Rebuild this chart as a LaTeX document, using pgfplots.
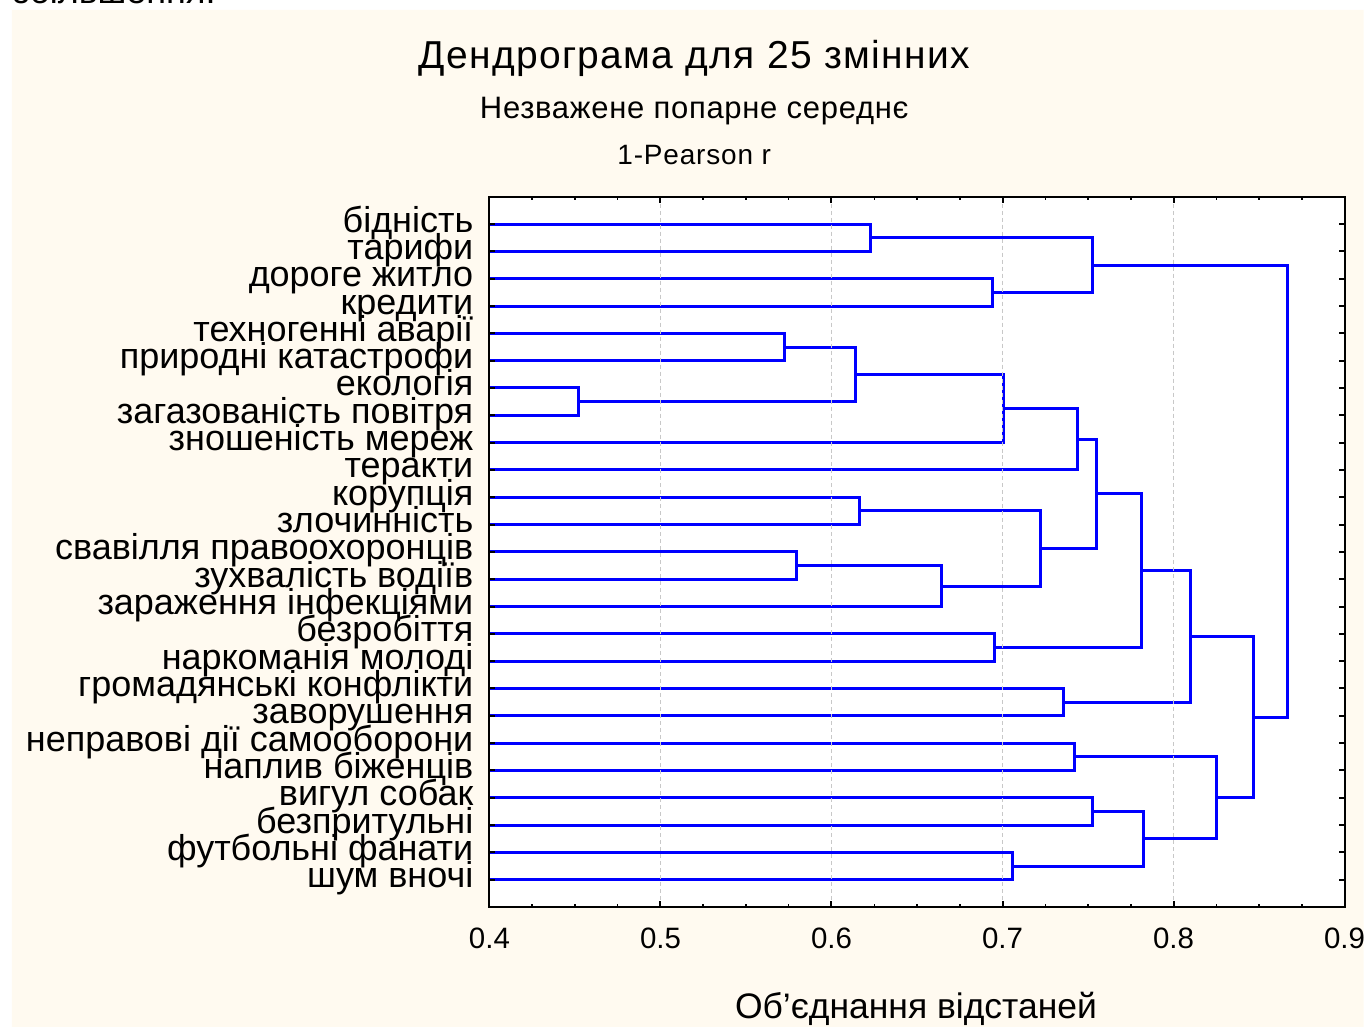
\documentclass[border=0pt]{standalone}
\usepackage{fontspec}
\setmainfont{Liberation Sans}
\newfontfamily\titlefont[LetterSpace=3.5]{Liberation Sans}
\newfontfamily\subfont[LetterSpace=2.3]{Liberation Sans}
\newfontfamily\pearfont[LetterSpace=3]{Liberation Sans}
\usepackage{pgfplots}
\pgfplotsset{compat=1.18}
\definecolor{bgbeige}{RGB}{255,250,240}
\definecolor{dblue}{RGB}{0,0,255}
\definecolor{gridgray}{RGB}{200,200,200}
\begin{document}
\begin{tikzpicture}[x=1pt,y=1pt]
\fill[white] (0,0) rectangle (12,1028);
\fill[white] (0,1018) rectangle (1365,1028);
\fill[bgbeige, even odd rule] (12,0) rectangle (1365,1018) (490,120) rectangle (1346,831);
\begin{scope}
\clip (0,0) rectangle (1365,1028);
\node[anchor=base west, inner sep=0pt, font=\fontsize{36}{36}\selectfont] at (13,1024.7) {збільшення.};
\end{scope}
\node[anchor=base, inner sep=0pt, font=\titlefont\fontsize{39}{39}\selectfont] at (695,959.7) {Дендрограма для 25 змінних};
\node[anchor=base, inner sep=0pt, font=\subfont\fontsize{31}{31}\selectfont] at (695,909.5) {Незважене попарне середнє};
\node[anchor=base, inner sep=0pt, font=\pearfont\fontsize{28}{28}\selectfont] at (695,863) {1-Pearson r};
\begin{axis}[
  at={(490pt,120pt)}, anchor=south west,
  scale only axis, width=856pt, height=711pt,
  set layers=axis on top, axis on top,
  xmin=0.4, xmax=0.9, ymin=0, ymax=26, y dir=reverse,
  enlargelimits=false,
  axis background/.style={fill=white},
  axis line style={line width=2pt, black},
  xtick={0.4,0.5,0.6,0.7,0.8,0.9}, minor x tick num=3,
  ytick={1,2,3,4,5,6,7,8,9,10,11,12,13,14,15,16,17,18,19,20,21,22,23,24,25},
  yticklabels={бідність,тарифи,дороге житло,кредити,техногенні аварії,природні катастрофи,екологія,загазованість повітря,зношеність мереж,теракти,корупція,злочинність,свавілля правоохоронців,зухвалість водіїв,зараження інфекціями,безробіття,наркоманія молоді,громадянські конфлікти,заворушення,неправові дії самооборони,наплив біженців,вигул собак,безпритульні,футбольні фанати,шум вночі},
  tick align=inside,
  major tick length=6pt, minor tick length=3.5pt,
  every major tick/.append style={line width=2pt, black},
  every minor tick/.append style={line width=1.5pt, black},
  xmajorgrids,
  major grid style={gridgray, line width=1pt, dash pattern=on 4pt off 3pt},
  every axis grid/.append style={/pgfplots/on layer=pre main},
  xticklabel style={font=\fontsize{29.5}{29.5}\selectfont, inner sep=0pt, anchor=north, yshift=-21pt, /pgf/number format/assume math mode=true, /pgf/number format/fixed, /pgf/number format/precision=1},
  yticklabel style={font=\fontsize{36}{36}\selectfont, inner sep=0pt, anchor=base east, xshift=-16pt, yshift=-8pt},
  dend/.style={dblue, line width=3pt, line join=miter, mark=none},
]
% A: 1-2
\addplot[dend] coordinates {(0.4,1) (0.6229,1) (0.6229,2) (0.4,2)};
% B: 3-4
\addplot[dend] coordinates {(0.4,3) (0.6941,3) (0.6941,4) (0.4,4)};
% C: A-B
\addplot[dend] coordinates {(0.6229,1.5) (0.7528,1.5) (0.7528,3.5) (0.6941,3.5)};
% D: 5-6
\addplot[dend] coordinates {(0.4,5) (0.5724,5) (0.5724,6) (0.4,6)};
% E: 7-8
\addplot[dend] coordinates {(0.4,7) (0.4518,7) (0.4518,8) (0.4,8)};
% F: D-E
\addplot[dend] coordinates {(0.5724,5.5) (0.6142,5.5) (0.6142,7.5) (0.4518,7.5)};
% G: F-9
\addplot[dend] coordinates {(0.6142,6.5) (0.7008,6.5) (0.7008,9) (0.4,9)};
% H: G-10
\addplot[dend] coordinates {(0.7008,7.75) (0.7441,7.75) (0.7441,10) (0.4,10)};
% I: 11-12
\addplot[dend] coordinates {(0.4,11) (0.6164,11) (0.6164,12) (0.4,12)};
% K: 13-14
\addplot[dend] coordinates {(0.4,13) (0.5796,13) (0.5796,14) (0.4,14)};
% L: K-15
\addplot[dend] coordinates {(0.5796,13.5) (0.6641,13.5) (0.6641,15) (0.4,15)};
% M: I-L
\addplot[dend] coordinates {(0.6164,11.5) (0.7225,11.5) (0.7225,14.25) (0.6641,14.25)};
% N: H-M
\addplot[dend] coordinates {(0.7441,8.875) (0.7548,8.875) (0.7548,12.875) (0.7225,12.875)};
% O: 16-17
\addplot[dend] coordinates {(0.4,16) (0.6952,16) (0.6952,17) (0.4,17)};
% P: N-O
\addplot[dend] coordinates {(0.7548,10.875) (0.7812,10.875) (0.7812,16.5) (0.6952,16.5)};
% Q: 18-19
\addplot[dend] coordinates {(0.4,18) (0.7359,18) (0.7359,19) (0.4,19)};
% R: P-Q
\addplot[dend] coordinates {(0.7812,13.6875) (0.8102,13.6875) (0.8102,18.5) (0.7359,18.5)};
% S: 20-21
\addplot[dend] coordinates {(0.4,20) (0.7423,20) (0.7423,21) (0.4,21)};
% T: 22-23
\addplot[dend] coordinates {(0.4,22) (0.7525,22) (0.7525,23) (0.4,23)};
% U: 24-25
\addplot[dend] coordinates {(0.4,24) (0.7058,24) (0.7058,25) (0.4,25)};
% V: T-U
\addplot[dend] coordinates {(0.7525,22.5) (0.7825,22.5) (0.7825,24.5) (0.7058,24.5)};
% W: S-V
\addplot[dend] coordinates {(0.7423,20.5) (0.8251,20.5) (0.8251,23.5) (0.7825,23.5)};
% X: R-W
\addplot[dend] coordinates {(0.8102,16.09375) (0.8466,16.09375) (0.8466,22) (0.8251,22)};
% Y: C-X
\addplot[dend] coordinates {(0.7528,2.5) (0.8664,2.5) (0.8664,19.046875) (0.8466,19.046875)};
\end{axis}
\node[anchor=base, inner sep=0pt, font=\fontsize{35.5}{35.5}\selectfont] at (917,8) {Об’єднання відстаней};
\path (0,0) rectangle (1365,1028);
\end{tikzpicture}
\end{document}
